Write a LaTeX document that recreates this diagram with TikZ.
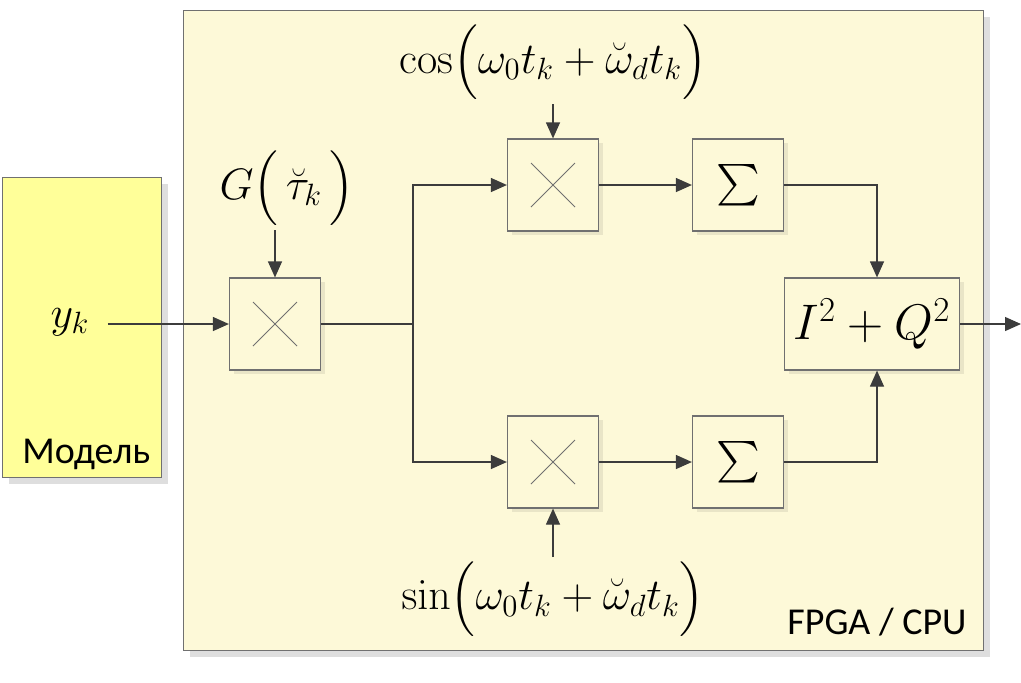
\RequirePackage{fix-cm}
\documentclass[tikz,border=0pt]{standalone}
\usepackage{amsmath}
\usepackage[no-math]{fontspec}
\setmainfont{Carlito}
\usepackage{xcolor}
\usetikzlibrary{positioning, arrows.meta, shadows}
\definecolor{model}{HTML}{FFFF99}
\definecolor{board}{HTML}{FDF9D8}
\definecolor{edge}{HTML}{707070}
\definecolor{wirec}{HTML}{3C3C3C}
\definecolor{shade}{HTML}{DEDEDE}

\begin{document}
\begin{tikzpicture}[
    x=0.5pt, y=-0.5pt,
    panel/.style={rectangle, draw=edge, line width=0.6pt, anchor=north west, inner sep=0pt,
                  drop shadow={shadow xshift=3pt, shadow yshift=-3pt, fill=shade, opacity=1}},
    block/.style={rectangle, draw=edge, fill=board, line width=0.6pt,
                  minimum width=45.5pt, minimum height=46pt, inner sep=0pt,
                  drop shadow={shadow xshift=2pt, shadow yshift=-2pt, fill=black, opacity=0.08},
                  font=\fontsize{22}{26}\selectfont},
    mixer/.style={block, path picture={
                  \draw[edge, line width=0.4pt] (path picture bounding box.center) ++(-22,-22) -- ++(44,44)
                        (path picture bounding box.center) ++(-22,22) -- ++(44,-44);}},
    flow/.style={-{Triangle[length=8pt, width=7pt]}, wirec, line width=0.6pt},
    line/.style={wirec, line width=0.6pt},
    mathlabel/.style={font=\fontsize{22}{26}\selectfont, inner sep=1pt},
    caption/.style={font=\fontsize{19}{22}\selectfont, inner sep=0pt}
  ]
    \useasboundingbox (0,0) rectangle (1021,682);

    % model and board
    \node[panel, fill=model, minimum width=79.5pt, minimum height=150pt] (model) at (2,177) {};
    \node[panel, fill=board, minimum width=400pt, minimum height=320pt] (fpga) at (183,10) {};
    \node[caption, anchor=south west] (modlab) at (22,470) {Модель};
    \node[caption, anchor=south east] (fpgalab) at (967,636) {FPGA / CPU};

    % blocks
    \node[mixer] (gmix) at (275,324) {};
    \node[mixer] (cmix) at (553,185) {};
    \node[mixer] (smix) at (553,462) {};
    \node[block] (csum) at (738,185) {$\sum$};
    \node[block] (ssum) at (738,462) {$\sum$};
    \node[block, minimum width=87.5pt, font=\fontsize{25}{28}\selectfont] (power) at (872,324) {$I^{2}+Q^{2}$};

    % labels
    \node[mathlabel] (yk) at (70,322) {$y_k$};
    \node[mathlabel, anchor=south] (glab) at (287,230) {$G\Bigl(\,\breve{\tau}_k\,\Bigr)$};
    \node[mathlabel, anchor=south] (coslab) at (553,104) {$\cos\Bigl(\omega_0 t_k+\breve{\omega}_d t_k\Bigr)$};
    \node[mathlabel, anchor=north] (sinlab) at (553,557) {$\sin\Bigl(\omega_0 t_k+\breve{\omega}_d t_k\Bigr)$};

    \coordinate (split) at (413,324);
    \coordinate (out) at (1021,324);

    % wires
    \draw[flow] ([xshift=8pt]yk.east |- gmix.west) -- (gmix.west);
    \draw[flow] (glab.south -| gmix.north) -- (gmix.north);
    \draw[line] (gmix.east) -- (split);
    \draw[flow] (split) |- (cmix.west);
    \draw[flow] (split) |- (smix.west);
    \draw[flow] (coslab.south) -- (cmix.north);
    \draw[flow] (sinlab.north) -- (smix.south);
    \draw[flow] (cmix.east) -- (csum.west);
    \draw[flow] (smix.east) -- (ssum.west);
    \draw[flow] (csum.east) -| ([xshift=2.5pt]power.north);
    \draw[flow] (ssum.east) -| ([xshift=2.5pt]power.south);
    \draw[flow] (power.east) -- (out);
  \end{tikzpicture}
\end{document}
